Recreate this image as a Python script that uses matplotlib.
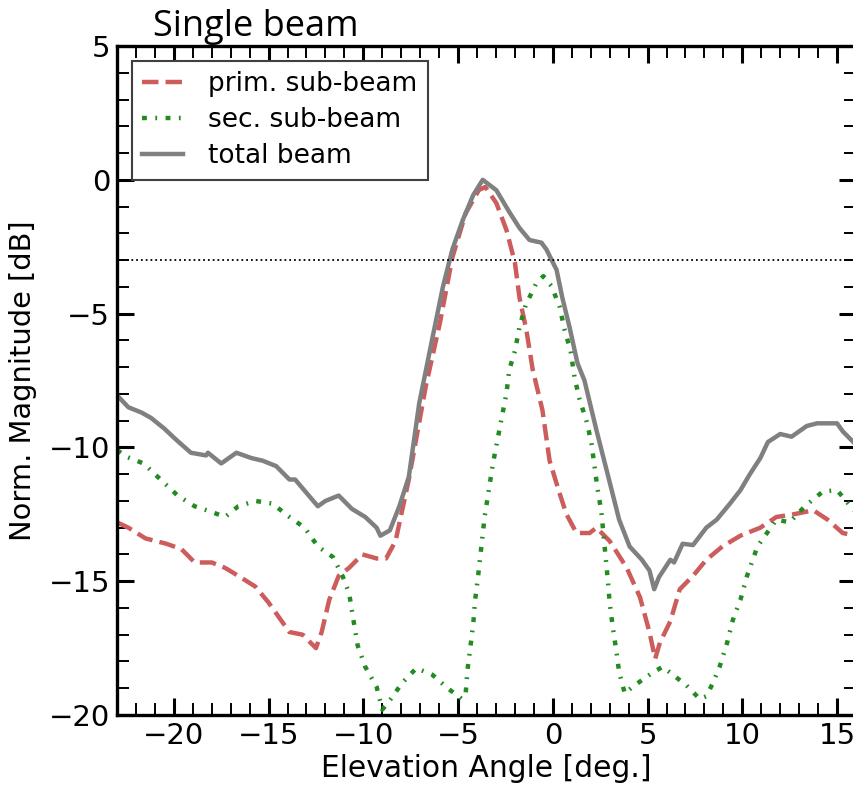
import matplotlib
matplotlib.use("Agg")
import matplotlib.pyplot as plt
from matplotlib.ticker import MultipleLocator

# digitised beam cuts (elevation angle [deg], magnitude [dB])
total_x = [-23.0, -22.4, -21.7, -21.2, -20.5, -19.9, -19.1, -18.3, -18.2, -17.5,
           -16.7, -15.9, -15.3, -14.6, -13.9, -13.6, -13.0, -12.4, -12.0, -11.3,
           -10.6, -9.9, -9.3, -9.1, -8.6, -8.1, -7.6, -7.05, -6.35, -5.8,
           -5.3, -4.75, -4.2, -3.7, -2.98, -2.3, -1.76, -1.23, -0.6, -0.34,
           0.2, 0.5, 0.88, 1.3, 1.67, 2.3, 3.0, 3.5, 4.05, 4.7,
           5.1, 5.35, 5.6, 6.2, 6.4, 6.85, 7.4, 8.1, 8.65, 9.35,
           9.9, 10.4, 10.95, 11.35, 12.0, 12.6, 13.4, 13.95, 14.5, 15.0,
           15.3, 16.0]
total_db = [-8.05, -8.5, -8.7, -8.9, -9.3, -9.7, -10.2, -10.3, -10.2, -10.6,
            -10.2, -10.4, -10.5, -10.7, -11.2, -11.2, -11.7, -12.2, -12.0, -11.8,
            -12.3, -12.6, -13.0, -13.3, -13.1, -12.2, -11.1, -8.35, -5.9, -4.0,
            -2.6, -1.5, -0.57, 0.0, -0.39, -1.2, -1.8, -2.25, -2.35, -2.6,
            -3.37, -4.4, -5.5, -6.85, -7.5, -9.35, -11.3, -12.7, -13.7, -14.2,
            -14.6, -15.3, -14.85, -14.2, -14.3, -13.6, -13.65, -13.0, -12.7, -12.1,
            -11.6, -11.0, -10.4, -9.8, -9.5, -9.6, -9.2, -9.1, -9.1, -9.1,
            -9.4, -9.9]

prim_x = [-23.0, -22.4, -21.5, -20.4, -19.6, -18.9, -18.0, -17.3, -16.6, -15.7,
          -15.0, -14.5, -13.9, -13.2, -12.5, -12.2, -11.8, -11.3, -10.75, -10.05,
          -9.3, -8.8, -8.3, -7.6, -6.7, -5.96, -5.3, -4.6, -3.9, -3.56,
          -2.98, -2.45, -2.0, -1.76, -1.4, -1.06, -0.55, -0.17, 0.35, 0.72,
          1.25, 1.94, 2.3, 3.0, 3.9, 4.6, 5.1, 5.4, 5.65, 6.2,
          6.7, 7.4, 8.1, 8.95, 9.9, 10.95, 11.8, 12.7, 13.75, 14.5,
          15.3, 16.0]
prim_db = [-12.8, -13.0, -13.4, -13.6, -13.8, -14.3, -14.3, -14.5, -14.8, -15.2,
           -15.8, -16.3, -16.9, -17.0, -17.5, -16.9, -15.7, -14.8, -14.5, -14.0,
           -14.15, -14.15, -13.5, -11.2, -7.7, -5.35, -2.9, -1.25, -0.38, -0.27,
           -0.87, -1.87, -3.1, -4.4, -5.6, -7.1, -8.6, -10.5, -11.7, -12.5,
           -13.2, -13.2, -13.0, -13.5, -14.5, -15.6, -16.9, -17.9, -17.3, -16.5,
           -15.3, -14.8, -14.2, -13.7, -13.3, -13.0, -12.6, -12.5, -12.35, -12.7,
           -13.2, -13.3]

sec_x = [-23.0, -22.5, -21.6, -20.7, -19.8, -18.9, -18.05, -17.3, -16.6, -15.7,
         -14.8, -13.9, -13.1, -12.4, -11.6, -11.1, -10.75, -10.5, -10.3, -9.9,
         -9.3, -9.0, -8.55, -7.95, -7.2, -6.35, -5.55, -4.8, -4.6, -4.5,
         -4.35, -4.2, -4.1, -3.95, -3.6, -3.16, -2.7, -2.45, -2.3, -2.0,
         -1.76, -1.44, -0.9, -0.5, -0.07, 0.36, 0.62, 0.94, 1.15, 1.41,
         1.77, 2.03, 2.2, 2.35, 2.56, 2.7, 2.9, 3.0, 3.16, 3.37,
         3.5, 3.8, 4.2, 4.7, 5.3, 5.8, 6.35, 7.06, 7.75, 8.1,
         8.45, 8.8, 9.2, 9.5, 9.9, 10.25, 10.8, 11.3, 11.8, 12.5,
         13.3, 14.25, 15.0, 15.3, 16.0]
sec_db = [-10.1, -10.35, -10.6, -11.2, -11.8, -12.2, -12.4, -12.6, -12.2, -12.0,
          -12.1, -12.6, -13.0, -13.7, -14.1, -14.8, -15.45, -16.55, -17.4, -18.2,
          -18.95, -19.8, -19.4, -18.8, -18.25, -18.5, -19.0, -19.4, -19.2, -18.3,
          -17.45, -16.6, -15.7, -14.85, -12.6, -10.6, -8.9, -8.0, -7.1, -6.4,
          -5.5, -4.7, -3.9, -3.6, -3.97, -4.75, -5.6, -6.4, -7.4, -8.2,
          -9.0, -9.8, -10.7, -11.5, -12.4, -13.45, -14.95, -15.8, -16.7, -17.7,
          -18.4, -19.2, -18.95, -18.7, -18.4, -18.2, -18.5, -18.9, -19.4, -19.3,
          -18.8, -18.2, -17.3, -16.45, -15.7, -14.8, -13.7, -13.2, -12.7, -12.8,
          -12.2, -11.65, -11.6, -11.85, -12.45]

half_power_db = -3.0

plt.rcParams["font.family"] = ["DejaVu Sans"]

fig = plt.figure(figsize=(8.54, 7.86), dpi=100)
ax = fig.add_axes([117 / 854, 71 / 786, 739 / 854, 669 / 786])

ax.plot(prim_x, prim_db, color="#cd5c5c", lw=3.2, ls="--", label="prim. sub-beam")
ax.plot(sec_x, sec_db, color="#228b22", lw=3.2, ls=(0, (1.1, 1.9, 0.4, 1.9)),
        label="sec. sub-beam")
ax.plot(total_x, total_db, color="#808080", lw=3.2, label="total beam")
ax.axhline(half_power_db, color="black", lw=1.3, ls=":")

ax.set_xlim(-23, 16)
ax.set_ylim(-20, 5)
ax.xaxis.set_major_locator(MultipleLocator(5))
ax.xaxis.set_minor_locator(MultipleLocator(1))
ax.yaxis.set_major_locator(MultipleLocator(5))
ax.yaxis.set_minor_locator(MultipleLocator(1))
ax.tick_params(which="both", direction="in", top=True, right=True, labelsize=21)
ax.tick_params(which="major", length=12.5, width=2.2, pad=5)
ax.tick_params(which="minor", length=8.5, width=1.4)
for sp in ax.spines.values():
    sp.set_linewidth(2.4)

ax.set_xlabel("Elevation Angle [deg.]", fontsize=21.4, labelpad=3)
ax.set_ylabel("Norm. Magnitude [dB]", fontsize=20.8, labelpad=8)

leg = ax.legend(loc="upper left", fontsize=19, fancybox=False, framealpha=1,
                edgecolor="0.25", handlelength=1.55, handletextpad=0.95,
                labelspacing=0.38, borderaxespad=0.55)
leg.get_frame().set_linewidth(1.5)

fig.text(153 / 854, 1 - 36 / 786, "Single beam", fontsize=26, family="Open Sans",
         ha="left", va="baseline")

fig.savefig("out.png", dpi=100)
